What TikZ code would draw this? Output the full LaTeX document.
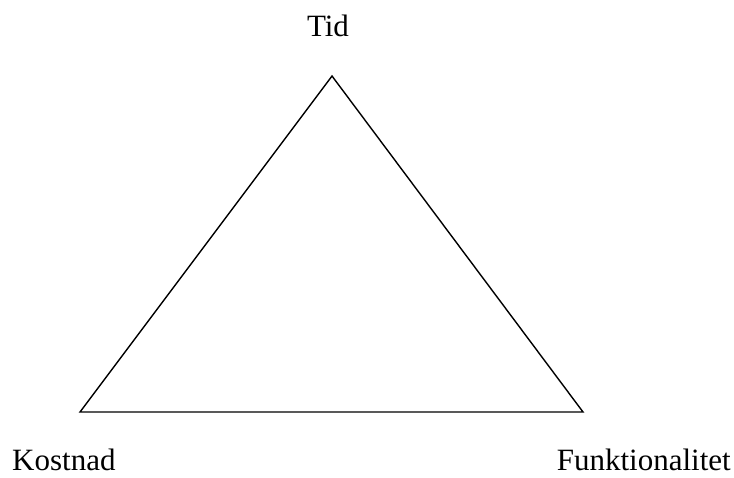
\documentclass[tikz,border=0pt]{standalone}
\usepackage{fontspec}
\setmainfont{Liberation Serif}
\begin{document}
\begin{tikzpicture}[x=1pt,y=-1pt,
  lbl/.style={inner sep=0pt,font=\fontsize{31}{37}\selectfont},
  edge/.style={line width=1.4pt,line join=miter}]
\useasboundingbox (0,0) rectangle (734,478);
\coordinate (top) at (332,76);
\coordinate (bl) at (80,412);
\coordinate (br) at (583,412);
\draw[edge] (top) -- (bl) -- (br) -- cycle;
\node[lbl,anchor=base] (tid) at (328,37) {Tid};
\node[lbl,anchor=base west] (kostnad) at (12,470.5) {Kostnad};
\node[lbl,anchor=base east] (funk) at (731,470.5) {Funktionalitet};
\end{tikzpicture}
\end{document}
